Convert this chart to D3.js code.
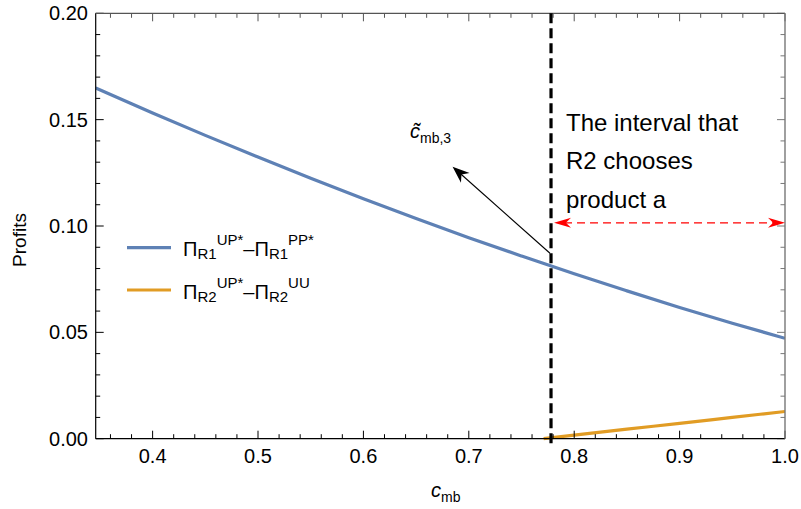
<!DOCTYPE html>
<html><head><meta charset="utf-8">
<script src="https://cdn.jsdelivr.net/npm/d3@7"></script>
<style>body{margin:0;background:#fff}svg{display:block;font-family:"Liberation Sans",Arial,sans-serif}</style>
</head><body><svg id="c" width="801" height="509"></svg>
<script>
// ---- data ----
const r1X = [0.346,0.4,0.45,0.5,0.55,0.6,0.65,0.7,0.75,0.8,0.85,0.9,0.95,1.0];
const r1Y = [0.1649,0.1531,0.1426,0.1324,0.1224,0.1128,0.1035,0.0945,0.0859,0.0775,0.0695,0.0617,0.0543,0.0472];
const r2X = [0.771,0.8,0.85,0.9,0.95,1.0];
const r2Y = [0.0,0.0017,0.0045,0.0072,0.0100,0.0128];
const xTicks = [0.4,0.5,0.6,0.7,0.8,0.9,1.0];
const xTickLabels = ["0.4","0.5","0.6","0.7","0.8","0.9","1.0"];
const yTicks = [0,0.05,0.10,0.15,0.20];
const yTickLabels = ["0.00","0.05","0.10","0.15","0.20"];
const threshold = 0.778;
const intervalY = 0.1015;
const arrowFrom = [0.777,0.0872], arrowTo = [0.6846,0.1279];
const intervalText = ["The interval that","R2 chooses","product a"];

const svg = d3.select("#c");
const L=95.7,R=785,T=13.3,B=438.7;
const x = d3.scaleLinear().domain([0.346,1.0]).range([L,R]);
const y = d3.scaleLinear().domain([0,0.20]).range([B,T]);
const blue="#5E81B5", orange="#E19C24";

svg.append("clipPath").attr("id","clp").append("rect").attr("x",L).attr("y",T-2).attr("width",R-L).attr("height",B-T+4);

const line = d3.line().x(d=>x(d[0])).y(d=>y(d[1])).curve(d3.curveMonotoneX);
const g = svg.append("g").attr("clip-path","url(#clp)");
g.append("path").datum(r1X.map((v,i)=>[v,r1Y[i]])).attr("d",line).attr("fill","none").attr("stroke",blue).attr("stroke-width",3.2);
g.append("path").datum(r2X.map((v,i)=>[v,r2Y[i]])).attr("d",line).attr("fill","none").attr("stroke",orange).attr("stroke-width",3.2);

const minorX = d3.range(0.36,1.0001,0.02);
const minorY = d3.range(0,0.2001,0.01);
function isMajor(v,arr){return arr.some(a=>Math.abs(a-v)<1e-6);}
svg.append("line").attr("x1",L).attr("x2",L).attr("y1",T).attr("y2",B).attr("stroke","#000").attr("stroke-width",1.2);
minorY.forEach(v=>{const len=isMajor(v,yTicks)?8:4.5;
  svg.append("line").attr("x1",L).attr("x2",L+len).attr("y1",y(v)).attr("y2",y(v)).attr("stroke","#000").attr("stroke-width",1);
  svg.append("line").attr("x1",R).attr("x2",R-len).attr("y1",y(v)).attr("y2",y(v)).attr("stroke","#777").attr("stroke-width",1);
});
svg.append("line").attr("x1",L).attr("x2",R).attr("y1",B).attr("y2",B).attr("stroke","#000").attr("stroke-width",1.2);
minorX.forEach(v=>{const len=isMajor(v,xTicks)?8:4.5;
  svg.append("line").attr("x1",x(v)).attr("x2",x(v)).attr("y1",B).attr("y2",B-len).attr("stroke","#000").attr("stroke-width",1);
  svg.append("line").attr("x1",x(v)).attr("x2",x(v)).attr("y1",T).attr("y2",T+len).attr("stroke","#555").attr("stroke-width",1);
});
svg.append("line").attr("x1",L).attr("x2",R).attr("y1",T).attr("y2",T).attr("stroke","#555").attr("stroke-width",1.2);
svg.append("line").attr("x1",R).attr("x2",R).attr("y1",T).attr("y2",B).attr("stroke","#777").attr("stroke-width",1.4);

yTicks.forEach((v,i)=>svg.append("text").attr("x",88).attr("y",y(v)+7).attr("text-anchor","end").attr("font-size",20).attr("fill","#000").text(yTickLabels[i]));
xTicks.forEach((v,i)=>svg.append("text").attr("x",x(v)).attr("y",463).attr("text-anchor","middle").attr("font-size",20).attr("fill","#000").text(xTickLabels[i]));

svg.append("text").attr("transform","translate(26,240) rotate(-90)").attr("text-anchor","middle").attr("font-size",19).text("Profits");
const xl = svg.append("text").attr("x",431).attr("y",497).attr("font-size",20);
xl.append("tspan").attr("font-style","italic").text("c");
xl.append("tspan").attr("font-size",14).attr("dy",5).text("mb");

svg.append("line").attr("x1",x(threshold)).attr("x2",x(threshold)).attr("y1",T).attr("y2",B+6)
  .attr("stroke","#000").attr("stroke-width",3.2).attr("stroke-dasharray","10,5");

const ax1=x(arrowFrom[0]),ay1=y(arrowFrom[1]),ax2=x(arrowTo[0]),ay2=y(arrowTo[1]);
function head(xt,yt,xf,yf,len,w,col){
  const a=Math.atan2(yt-yf,xt-xf),c=Math.cos(a),s=Math.sin(a);
  const bx=xt-len*c,by=yt-len*s, ix=xt-len*0.7*c, iy=yt-len*0.7*s;
  return svg.append("path").attr("d",`M${xt},${yt}L${bx-w*s},${by+w*c}L${ix},${iy}L${bx+w*s},${by-w*c}Z`).attr("fill",col);
}
const ang=Math.atan2(ay1-ay2,ax1-ax2);
svg.append("line").attr("x1",ax1).attr("y1",ay1).attr("x2",ax2+8*Math.cos(ang)).attr("y2",ay2+8*Math.sin(ang)).attr("stroke","#000").attr("stroke-width",1.1);
head(ax2,ay2,ax1,ay1,17,6.5,"#000");

// tilde label: combining tilde keeps it a single glyph cluster
const tl = svg.append("text").attr("x",410).attr("y",138).attr("font-size",20);
tl.append("tspan").attr("font-style","italic").text("c\u0303");
tl.append("tspan").attr("font-size",14).attr("dy",5).text("mb,3");

const ry=y(intervalY), rx1=x(threshold)+3, rx2=R;
svg.append("line").attr("x1",rx1+10).attr("x2",rx2-10).attr("y1",ry).attr("y2",ry).attr("stroke","#f00").attr("stroke-width",1.3).attr("stroke-dasharray","8,5");
head(rx1,ry,rx2,ry,17,5,"#f00");
head(rx2,ry,rx1,ry,17,5,"#f00");

intervalText.forEach((t,i)=>svg.append("text").attr("x",566).attr("y",131+i*38.3).attr("font-size",24).text(t));

function legendItem(yy,col,sub1,sup1,sub2,sup2){
  svg.append("line").attr("x1",127).attr("x2",171).attr("y1",yy).attr("y2",yy).attr("stroke",col).attr("stroke-width",3.2);
  const t=svg.append("text").attr("x",183).attr("y",yy+8.5).attr("font-size",20);
  t.append("tspan").text("Π");
  t.append("tspan").attr("font-size",15).attr("dy",3).text(sub1);
  t.append("tspan").attr("font-size",15).attr("dy",-14).text(sup1);
  t.append("tspan").attr("dy",11).text("–Π");
  t.append("tspan").attr("font-size",15).attr("dy",3).text(sub2);
  t.append("tspan").attr("font-size",15).attr("dy",-14).text(sup2);
}
legendItem(247.7,blue,"R1","UP*","R1","PP*");
legendItem(290,orange,"R2","UP*","R2","UU");
</script></body></html>
